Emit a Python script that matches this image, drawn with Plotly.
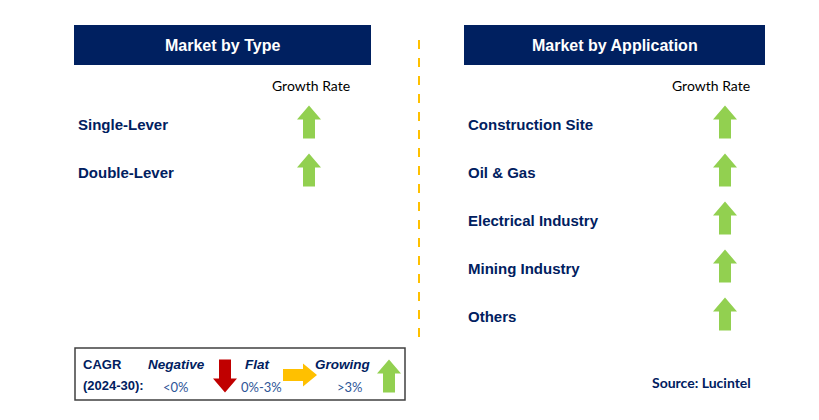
import plotly.graph_objects as go

NAVY = "#002060"
GREEN = "#92D050"
RED = "#C00000"
AMBER = "#FFC000"

# data
type_labels = ["Single-Lever", "Double-Lever"]
type_growth = ["up", "up"]
app_labels = ["Construction Site", "Oil & Gas", "Electrical Industry", "Mining Industry", "Others"]
app_growth = ["up", "up", "up", "up", "up"]
legend_names = ["Negative", "Flat", "Growing"]
legend_ranges = ["<0%", "0%-3%", ">3%"]
legend_dirs = ["down", "right", "up"]

fig = go.Figure()
shapes = []
ann = []


def arrow(cx, cy, d, color, w=24, h=33, shaft=12, head=14):
    # block arrow centred at (cx, cy) pointing in direction d
    hw, hh, s = w / 2, h / 2, shaft / 2
    if d == "up":
        pts = [(cx, cy - hh), (cx + hw, cy - hh + head), (cx + s, cy - hh + head), (cx + s, cy + hh),
               (cx - s, cy + hh), (cx - s, cy - hh + head), (cx - hw, cy - hh + head)]
    elif d == "down":
        pts = [(cx, cy + hh), (cx + hw, cy + hh - head), (cx + s, cy + hh - head), (cx + s, cy - hh),
               (cx - s, cy - hh), (cx - s, cy + hh - head), (cx - hw, cy + hh - head)]
    else:
        pts = [(cx + hh, cy), (cx + hh - head, cy - hw), (cx + hh - head, cy - s), (cx - hh, cy - s),
               (cx - hh, cy + s), (cx + hh - head, cy + s), (cx + hh - head, cy + hw)]
    path = "M " + " L ".join(f"{x},{y}" for x, y in pts) + " Z"
    shapes.append(dict(type="path", path=path, fillcolor=color, line=dict(width=0), layer="above"))


def text(x, y, t, size=14, color=NAVY, bold=True, italic=False, anchor="left", family="Arial"):
    if bold:
        t = f"<b>{t}</b>"
    if italic:
        t = f"<i>{t}</i>"
    ann.append(dict(x=x, y=y, text=t, showarrow=False, xanchor=anchor, yanchor="middle",
                    font=dict(size=size, color=color, family=family)))


def panel(x0, x1, title, labels, growth, arrow_x, gr_x):
    shapes.append(dict(type="rect", x0=x0, x1=x1, y0=25, y1=65, fillcolor=NAVY, line=dict(width=0)))
    text((x0 + x1) / 2, 45, title, size=16, color="white", anchor="center")
    text(gr_x, 85, "Growth Rate", size=14, color="black", bold=False, anchor="center", family="Lato")
    for i, (lab, g) in enumerate(zip(labels, growth)):
        y = 124 + i * 48
        text(x0 + 2, y, lab, size=15)
        arrow(arrow_x, y - 2, g, GREEN)


panel(74, 371, "Market by Type", type_labels, type_growth, 309, 311)
panel(464, 765, "Market by Application", app_labels, app_growth, 725, 711)

# divider
shapes.append(dict(type="line", x0=419, x1=419, y0=40, y1=340,
                   line=dict(color=AMBER, width=2, dash="dash")))

# legend box
shapes.append(dict(type="rect", x0=75, x1=405, y0=348, y1=400, line=dict(color="#404040", width=1.5)))
text(81, 364, "CAGR", size=13)
text(81, 385, "(2024-30):", size=13)
name_x = [176, 257, 342]
range_x = [176, 261, 350]
arr_x = [225, 300, 389]
arr_col = [RED, AMBER, GREEN]
for i in range(3):
    text(name_x[i], 364, legend_names[i], size=13.5, italic=True, anchor="center")
    text(range_x[i], 387, legend_ranges[i], size=13, color="#2E5597", bold=False,
         anchor="center", family="Lato")
    if legend_dirs[i] == "right":
        arrow(arr_x[i], 375, "right", arr_col[i], w=23, h=34, shaft=12, head=14)
    else:
        arrow(arr_x[i], 376, legend_dirs[i], arr_col[i], w=24, h=33)

text(701, 382, "Source: Lucintel", size=14, anchor="center", family="Lato")

# page body adds an 8px offset, so shift the ranges to compensate
fig.update_layout(
    width=819, height=420,
    margin=dict(l=0, r=0, t=0, b=0),
    paper_bgcolor="white", plot_bgcolor="white",
    xaxis=dict(range=[8, 827], visible=False, fixedrange=True),
    yaxis=dict(range=[428, 8], visible=False, fixedrange=True),
    shapes=shapes, annotations=ann, showlegend=False,
)

fig.write_html("out.html")
